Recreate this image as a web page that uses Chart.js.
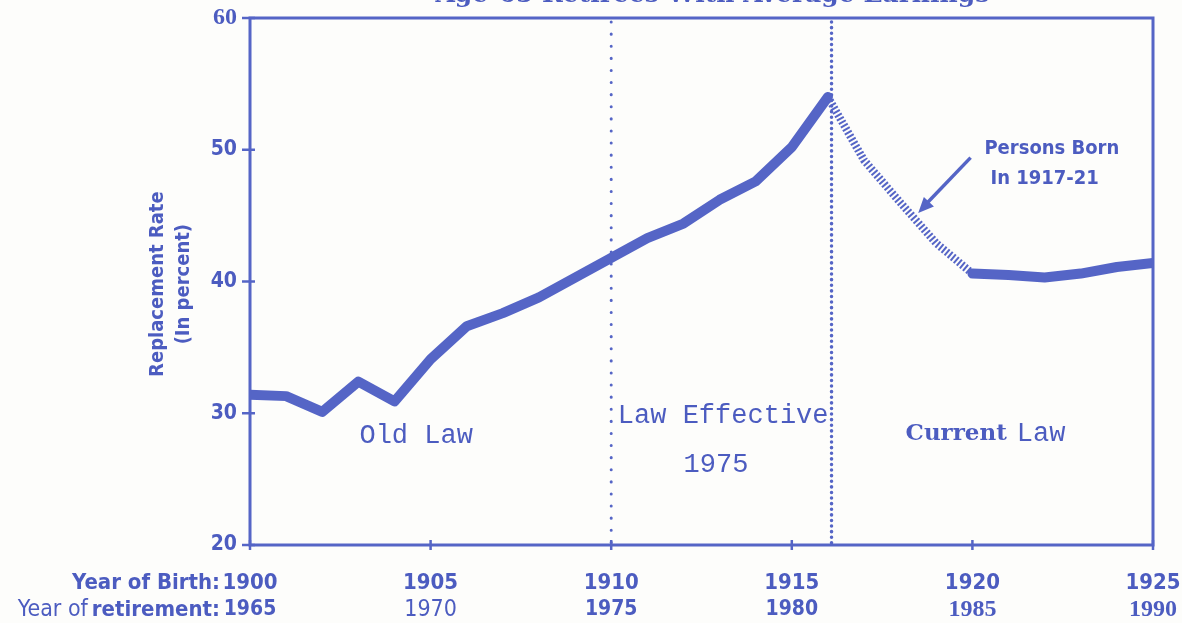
<!DOCTYPE html>
<html>
<head>
<meta charset="utf-8">
<script src="https://cdn.jsdelivr.net/npm/chart.js@4"></script>
<style>
  body { margin: 0; background: #fdfdfb; }
  #wrap { width: 1182px; height: 623px; position: relative; }
</style>
</head>
<body>
<div id="wrap"><canvas id="rateChart"></canvas></div>
<script>
// Replacement rate by year of birth
const birthYears = [1900, 1901, 1902, 1903, 1904, 1905, 1906, 1907, 1908, 1909,
                    1910, 1911, 1912, 1913, 1914, 1915, 1916, 1917, 1918, 1919,
                    1920, 1921, 1922, 1923, 1924, 1925];
const replacementRate = [31.4, 31.3, 30.1, 32.4, 30.9, 34.1, 36.6, 37.6, 38.8, 40.3,
                         41.8, 43.3, 44.4, 46.2, 47.6, 50.2, 54.0, 49.2, 46.0, 42.9,
                         40.6, 40.5, 40.3, 40.6, 41.1, 41.4];

const xTicks = [1900, 1905, 1910, 1915, 1920, 1925];
const birthLabels = ['1900', '1905', '1910', '1915', '1920', '1925'];
const retireLabels = ['1965', '1970', '1975', '1980', '1985', '1990'];
const yTicks = [20, 30, 40, 50, 60];

const lawEffectiveYear = 1910;
const currentLawYear = 1916.1;

const BLUE = '#5565c6';
const TEXT = '#4c5cc0';

const points = birthYears.map((y, i) => ({ x: y, y: replacementRate[i] }));

// hatched stretch for persons born 1917-21
const isHatch = ctx => ctx.p0.parsed.x >= 1916 && ctx.p1.parsed.x <= 1920;

const decorations = {
    id: 'decorations',
    beforeDatasetsDraw(chart) {
        const { ctx, chartArea: a, scales: { x, y } } = chart;
        ctx.save();
        ctx.strokeStyle = BLUE;
        ctx.lineWidth = 3;
        ctx.strokeRect(a.left, a.top, a.right - a.left, a.bottom - a.top);

        // y ticks
        ctx.lineWidth = 2.5;
        yTicks.forEach(v => {
            const py = y.getPixelForValue(v);
            ctx.beginPath();
            ctx.moveTo(a.left - 8, py);
            ctx.lineTo(a.left + 5, py);
            ctx.stroke();
        });
        // x ticks
        xTicks.forEach(v => {
            const px = x.getPixelForValue(v);
            ctx.beginPath();
            ctx.moveTo(px, a.bottom - 5);
            ctx.lineTo(px, a.bottom + 5);
            ctx.stroke();
        });

        // dotted dividers
        ctx.lineCap = 'round';
        ctx.lineWidth = 3;
        ctx.setLineDash([0.1, 12]);
        let px = x.getPixelForValue(lawEffectiveYear);
        ctx.beginPath(); ctx.moveTo(px, a.top + 4); ctx.lineTo(px, a.bottom); ctx.stroke();
        ctx.lineWidth = 3.5;
        ctx.setLineDash([0.1, 5.5]);
        px = x.getPixelForValue(currentLawYear);
        ctx.beginPath(); ctx.moveTo(px, a.top + 4); ctx.lineTo(px, a.bottom); ctx.stroke();
        ctx.restore();
    },
    afterDraw(chart) {
        const { ctx, chartArea: a, scales: { x, y } } = chart;
        ctx.save();
        ctx.fillStyle = TEXT;

        // cut-off title at the top
        ctx.font = 'bold 25px "DejaVu Serif"';
        ctx.textAlign = 'center';
        ctx.textBaseline = 'alphabetic';
        ctx.fillText('Age-65 Retirees With Average Earnings', x.getPixelForValue(1912.8), 2);

        // y tick labels
        ctx.textAlign = 'right';
        ctx.textBaseline = 'middle';
        yTicks.forEach(v => {
            ctx.font = v === 60 ? 'bold 24px "Liberation Serif"' : 'bold 21px "DejaVu Sans Condensed"';
            ctx.fillText(String(v), a.left - 13, y.getPixelForValue(v));
        });

        // y axis title
        ctx.save();
        ctx.translate(158, y.getPixelForValue(39.8));
        ctx.rotate(-Math.PI / 2);
        ctx.textAlign = 'center';
        ctx.font = 'bold 20px "DejaVu Sans Condensed"';
        ctx.fillText('Replacement Rate', 0, 0);
        ctx.fillText('(In percent)', 0, 26);
        ctx.restore();

        // x labels, two rows
        ctx.textAlign = 'center';
        ctx.textBaseline = 'middle';
        const retireFonts = ['bold 21px "DejaVu Sans Condensed"', '23px "Liberation Sans Narrow", "DejaVu Sans Condensed"',
            'bold 21px "DejaVu Sans Condensed"', 'bold 21px "DejaVu Sans Condensed"',
            'bold 24px "Liberation Serif"', 'bold 24px "Liberation Serif"'];
        xTicks.forEach((v, i) => {
            const px = x.getPixelForValue(v);
            ctx.font = 'bold 22px "DejaVu Sans Condensed"';
            ctx.fillText(birthLabels[i], px, 583);
            ctx.font = retireFonts[i];
            ctx.fillText(retireLabels[i], px, 610);
        });
        const x0 = x.getPixelForValue(xTicks[0]) - 30;
        ctx.textAlign = 'right';
        ctx.font = 'bold 22px "DejaVu Sans Condensed"';
        ctx.fillText('Year of Birth:', x0, 583);
        const ret = 'retirement:';
        ctx.fillText(ret, x0, 610);
        const w = ctx.measureText(ret).width;
        ctx.font = '23px "Liberation Sans Narrow", "DejaVu Sans Condensed"';
        ctx.fillText('Year of', x0 - w - 4, 610);

        // region labels
        ctx.textAlign = 'center';
        ctx.font = '27px "Liberation Mono"';
        ctx.fillText('Old Law', x.getPixelForValue(1904.6), y.getPixelForValue(28.3));
        ctx.fillText('Law Effective', x.getPixelForValue(1913.1), y.getPixelForValue(29.8));
        ctx.fillText('1975', x.getPixelForValue(1912.9), y.getPixelForValue(26.1));

        const cx = x.getPixelForValue(1918.15), cy = y.getPixelForValue(28.4);
        ctx.textAlign = 'left';
        ctx.font = 'bold 23px "DejaVu Serif"';
        ctx.fillText('Current', cx, cy);
        const cw = ctx.measureText('Current').width;
        ctx.font = '27px "Liberation Mono"';
        ctx.fillText('Law', cx + cw + 10, cy);

        // persons born 1917-21 note with arrow
        ctx.textAlign = 'center';
        ctx.font = 'bold 20px "DejaVu Sans Condensed"';
        ctx.fillText('Persons Born', x.getPixelForValue(1922.2), y.getPixelForValue(50.1));
        ctx.fillText('In 1917-21', x.getPixelForValue(1922.0), y.getPixelForValue(47.8));

        const ax0 = x.getPixelForValue(1919.95), ay0 = y.getPixelForValue(49.4);
        const ax1 = x.getPixelForValue(1918.5), ay1 = y.getPixelForValue(45.2);
        ctx.strokeStyle = BLUE;
        ctx.lineWidth = 3.5;
        ctx.beginPath(); ctx.moveTo(ax0, ay0); ctx.lineTo(ax1 + 6, ay1 - 7); ctx.stroke();
        const ang = Math.atan2(ay1 - ay0, ax1 - ax0);
        ctx.beginPath();
        ctx.moveTo(ax1, ay1);
        ctx.lineTo(ax1 - 17 * Math.cos(ang - 0.42), ay1 - 17 * Math.sin(ang - 0.42));
        ctx.lineTo(ax1 - 17 * Math.cos(ang + 0.42), ay1 - 17 * Math.sin(ang + 0.42));
        ctx.closePath();
        ctx.fillStyle = BLUE;
        ctx.fill();
        ctx.restore();
    }
};

new Chart(document.getElementById('rateChart'), {
    type: 'line',
    data: {
        datasets: [{
            data: points,
            borderColor: BLUE,
            borderWidth: 10,
            borderCapStyle: 'round',
            borderJoinStyle: 'round',
            pointRadius: 0,
            tension: 0,
            segment: {
                borderDash: ctx => isHatch(ctx) ? [2, 2] : undefined,
                borderWidth: ctx => isHatch(ctx) ? 8 : undefined,
                borderCapStyle: ctx => isHatch(ctx) ? 'butt' : undefined
            }
        }]
    },
    options: {
        responsive: true,
        maintainAspectRatio: false,
        animation: false,
        layout: { padding: { left: 250, right: 29, top: 18, bottom: 78 } },
        plugins: { legend: { display: false }, tooltip: { enabled: false } },
        scales: {
            x: { type: 'linear', min: 1900, max: 1925, display: false },
            y: { min: 20, max: 60, display: false }
        }
    },
    plugins: [decorations]
});
</script>
</body>
</html>
